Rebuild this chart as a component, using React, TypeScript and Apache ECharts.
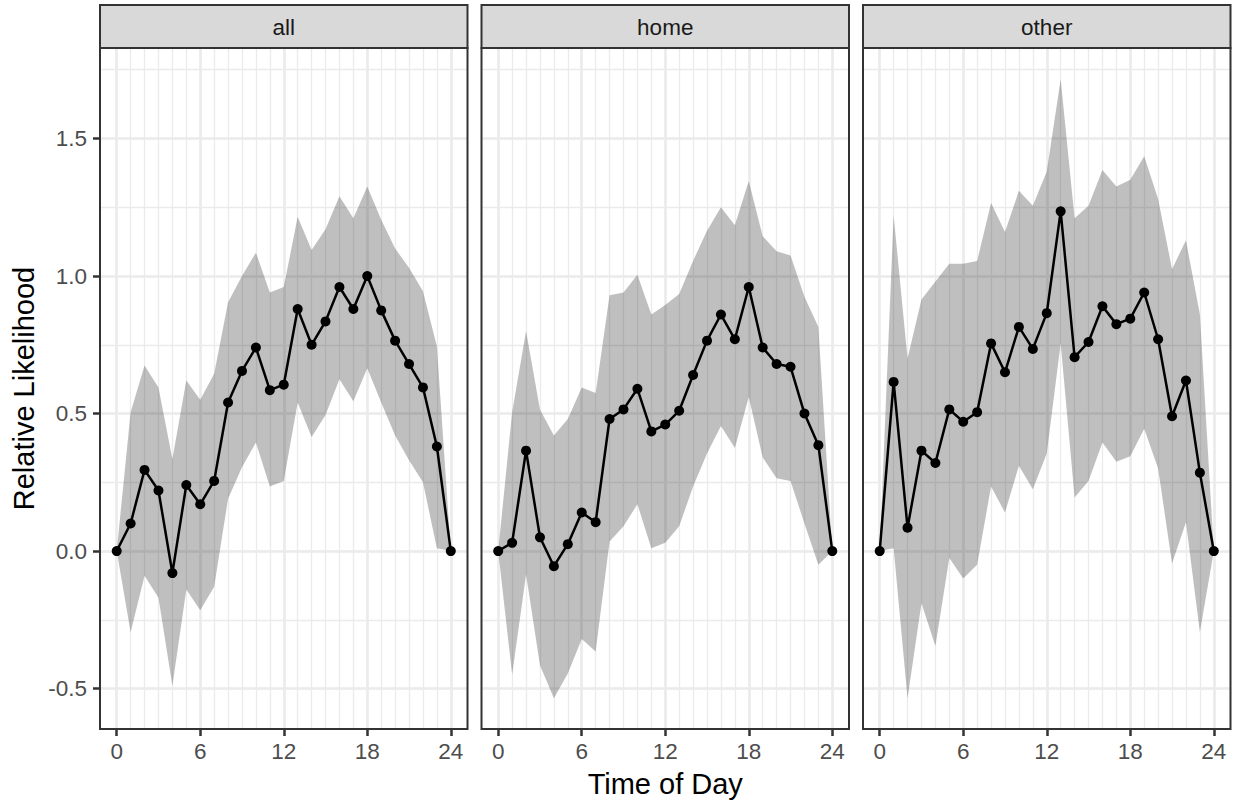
import React, { useEffect, useRef } from 'react';
import * as echarts from 'echarts';

// ---------- data ----------
const HOURS = [0, 1, 2, 3, 4, 5, 6, 7, 8, 9, 10, 11, 12, 13, 14, 15, 16, 17, 18, 19, 20, 21, 22, 23, 24];
const PANELS = ['all', 'home', 'other'];

const ALL_MEAN = [0, 0.10, 0.295, 0.22, -0.08, 0.24, 0.17, 0.255, 0.54, 0.655, 0.74, 0.585, 0.605, 0.88, 0.75, 0.835, 0.96, 0.88, 1.0, 0.875, 0.765, 0.68, 0.595, 0.38, 0];
const ALL_UPPER = [0, 0.505, 0.675, 0.595, 0.335, 0.62, 0.55, 0.645, 0.905, 1.0, 1.085, 0.94, 0.96, 1.215, 1.095, 1.17, 1.29, 1.21, 1.325, 1.205, 1.10, 1.03, 0.945, 0.745, 0];
const ALL_LOWER = [0, -0.295, -0.09, -0.17, -0.49, -0.14, -0.215, -0.13, 0.19, 0.305, 0.395, 0.235, 0.255, 0.54, 0.415, 0.495, 0.625, 0.545, 0.665, 0.54, 0.42, 0.33, 0.25, 0.01, 0];

const HOME_MEAN = [0, 0.03, 0.365, 0.05, -0.055, 0.025, 0.14, 0.105, 0.48, 0.515, 0.59, 0.435, 0.46, 0.51, 0.64, 0.765, 0.86, 0.77, 0.96, 0.74, 0.68, 0.67, 0.50, 0.385, 0];
const HOME_UPPER = [0, 0.505, 0.80, 0.515, 0.42, 0.48, 0.595, 0.575, 0.93, 0.94, 1.005, 0.86, 0.895, 0.935, 1.055, 1.165, 1.25, 1.185, 1.345, 1.145, 1.09, 1.075, 0.925, 0.815, 0];
const HOME_LOWER = [0, -0.45, -0.085, -0.415, -0.535, -0.445, -0.32, -0.365, 0.035, 0.09, 0.17, 0.01, 0.03, 0.09, 0.235, 0.355, 0.455, 0.375, 0.56, 0.34, 0.265, 0.255, 0.10, -0.05, 0];

const OTHER_MEAN = [0, 0.615, 0.085, 0.365, 0.32, 0.515, 0.47, 0.505, 0.755, 0.65, 0.815, 0.735, 0.865, 1.235, 0.705, 0.76, 0.89, 0.825, 0.845, 0.94, 0.77, 0.49, 0.62, 0.285, 0];
const OTHER_UPPER = [0, 1.22, 0.70, 0.915, 0.98, 1.045, 1.045, 1.055, 1.265, 1.16, 1.31, 1.255, 1.38, 1.715, 1.21, 1.255, 1.385, 1.325, 1.35, 1.435, 1.28, 1.025, 1.13, 0.86, 0];
const OTHER_LOWER = [0, 0.01, -0.535, -0.19, -0.345, -0.025, -0.10, -0.05, 0.235, 0.14, 0.31, 0.225, 0.355, 0.755, 0.195, 0.255, 0.395, 0.325, 0.345, 0.445, 0.30, -0.045, 0.105, -0.295, 0];

const MEANS = [ALL_MEAN, HOME_MEAN, OTHER_MEAN];
const UPPERS = [ALL_UPPER, HOME_UPPER, OTHER_UPPER];
const LOWERS = [ALL_LOWER, HOME_LOWER, OTHER_LOWER];

const X_TITLE = 'Time of Day';
const Y_TITLE = 'Relative Likelihood';

// ---------- layout ----------
const FONT = '"Liberation Sans", Arial, Helvetica, sans-serif';
const PANEL_LEFT = [100, 481.5, 863];
const PANEL_W = 367.5;
const TOP = 48;
const BOTTOM = 729;
const STRIP_TOP = 5;
const X_MIN = -1.2;
const X_MAX = 25.2;
const Y_MIN = -0.647;
const Y_MAX = 1.829;

const GRID_COLOR = '#EBEBEB';
const DARK = '#333333';

function yPx(v: number) {
  return TOP + ((Y_MAX - v) / (Y_MAX - Y_MIN)) * (BOTTOM - TOP);
}

export default function App() {
  const ref = useRef<HTMLDivElement>(null);

  useEffect(() => {
    if (!ref.current) return;
    const chart = echarts.init(ref.current, null, { renderer: 'svg' });
    const pxPerHour = PANEL_W / (X_MAX - X_MIN);

    const grids: any[] = [];
    const xAxes: any[] = [];
    const yAxes: any[] = [];
    const series: any[] = [];
    const graphics: any[] = [];

    PANELS.forEach((name, i) => {
      const L = PANEL_LEFT[i];
      const base = grids.length;
      // data grid (inner 0..24 horizontally)
      grids.push({
        left: L + (0 - X_MIN) * pxPerHour,
        width: 24 * pxPerHour,
        top: TOP,
        height: BOTTOM - TOP,
        containLabel: false,
        outerBoundsMode: 'none',
      });
      // major horizontal grid
      grids.push({
        left: L,
        width: PANEL_W,
        top: yPx(1.5),
        height: yPx(-0.5) - yPx(1.5),
        containLabel: false,
        outerBoundsMode: 'none',
      });
      // minor horizontal grid
      grids.push({
        left: L,
        width: PANEL_W,
        top: yPx(1.75),
        height: yPx(-0.5) - yPx(1.75),
        containLabel: false,
        outerBoundsMode: 'none',
      });

      xAxes.push({
        type: 'value',
        gridIndex: base,
        position: 'bottom',
        min: 0,
        max: 24,
        interval: 6,
        axisLine: { show: false, onZero: false },
        axisTick: { show: true, length: 7, lineStyle: { color: DARK, width: 2.5 } },
        axisLabel: { show: true, color: '#4D4D4D', fontSize: 22.5, fontFamily: FONT, margin: 11 },
        splitLine: { show: true, lineStyle: { color: GRID_COLOR, width: 2.7 } },
        minorTick: { show: false, splitNumber: 6 },
        minorSplitLine: { show: true, lineStyle: { color: GRID_COLOR, width: 1.3 } },
      });
      yAxes.push({
        type: 'value',
        gridIndex: base,
        min: Y_MIN,
        max: Y_MAX,
        show: false,
      });

      xAxes.push({ type: 'value', gridIndex: base + 1, min: 0, max: 1, show: false });
      yAxes.push({
        type: 'value',
        gridIndex: base + 1,
        position: 'left',
        min: -0.5,
        max: 1.5,
        interval: 0.5,
        axisLine: { show: false, onZero: false },
        axisTick: { show: i === 0, length: 7, lineStyle: { color: DARK, width: 2.5 } },
        axisLabel: {
          show: i === 0,
          color: '#4D4D4D',
          fontSize: 22.5,
          fontFamily: FONT,
          margin: 13,
          formatter: (v: number) => v.toFixed(1),
        },
        splitLine: { show: true, lineStyle: { color: GRID_COLOR, width: 2.7 } },
      });

      xAxes.push({ type: 'value', gridIndex: base + 2, min: 0, max: 1, show: false });
      yAxes.push({
        type: 'value',
        gridIndex: base + 2,
        min: -0.5,
        max: 1.75,
        interval: 0.25,
        axisLine: { show: false, onZero: false },
        axisTick: { show: false },
        axisLabel: { show: false },
        splitLine: { show: true, lineStyle: { color: GRID_COLOR, width: 1.3 } },
      });

      const upper = UPPERS[i];
      const lower = LOWERS[i];
      const mean = MEANS[i];

      series.push({
        type: 'custom',
        name: name + ' band',
        xAxisIndex: base,
        yAxisIndex: base,
        silent: true,
        z: 2,
        data: HOURS.map((h, k) => [h, lower[k], upper[k]]),
        encode: { x: 0, y: [1, 2] },
        renderItem: (params: any, api: any) => {
          if (params.dataIndex !== 0) return null;
          const pts: number[][] = [];
          for (let k = 0; k < HOURS.length; k++) pts.push(api.coord([HOURS[k], upper[k]]));
          for (let k = HOURS.length - 1; k >= 0; k--) pts.push(api.coord([HOURS[k], lower[k]]));
          return {
            type: 'polygon',
            shape: { points: pts },
            style: { fill: 'rgba(0,0,0,0.25)', stroke: 'none' },
          };
        },
      });

      series.push({
        type: 'line',
        name: name,
        xAxisIndex: base,
        yAxisIndex: base,
        data: HOURS.map((h, k) => [h, mean[k]]),
        symbol: 'circle',
        symbolSize: 10,
        showSymbol: true,
        clip: false,
        z: 3,
        itemStyle: { color: '#000000' },
        lineStyle: { color: '#000000', width: 2.5 },
        silent: true,
      });

      // strip
      graphics.push({
        type: 'rect',
        z: 100,
        shape: { x: L, y: STRIP_TOP, width: PANEL_W, height: TOP - STRIP_TOP },
        style: { fill: '#D9D9D9', stroke: DARK, lineWidth: 2 },
      });
      graphics.push({
        type: 'text',
        z: 101,
        x: L + PANEL_W / 2,
        y: (STRIP_TOP + TOP) / 2 + 1,
        style: {
          text: name,
          fill: '#1A1A1A',
          fontSize: 22.5,
          fontFamily: FONT,
          align: 'center',
          verticalAlign: 'middle',
        },
      });
      // panel border
      graphics.push({
        type: 'rect',
        z: 100,
        shape: { x: L, y: TOP, width: PANEL_W, height: BOTTOM - TOP },
        style: { fill: 'none', stroke: DARK, lineWidth: 2 },
      });
    });

    graphics.push({
      type: 'text',
      z: 101,
      x: PANEL_LEFT[1] + PANEL_W / 2,
      y: 784,
      style: {
        text: X_TITLE,
        fill: '#000000',
        fontSize: 29,
        fontFamily: FONT,
        align: 'center',
        verticalAlign: 'middle',
      },
    });
    graphics.push({
      type: 'text',
      z: 101,
      x: 24,
      y: (TOP + BOTTOM) / 2,
      rotation: Math.PI / 2,
      style: {
        text: Y_TITLE,
        fill: '#000000',
        fontSize: 29,
        fontFamily: FONT,
        align: 'center',
        verticalAlign: 'middle',
      },
    });

    chart.setOption({
      animation: false,
      backgroundColor: '#FFFFFF',
      grid: grids,
      xAxis: xAxes,
      yAxis: yAxes,
      series: series,
      graphic: graphics,
    });

    return () => chart.dispose();
  }, []);

  return (
    <div
      ref={ref}
      style={{ position: 'fixed', left: 0, top: 0, width: 1235, height: 803, background: '#FFFFFF' }}
    />
  );
}
